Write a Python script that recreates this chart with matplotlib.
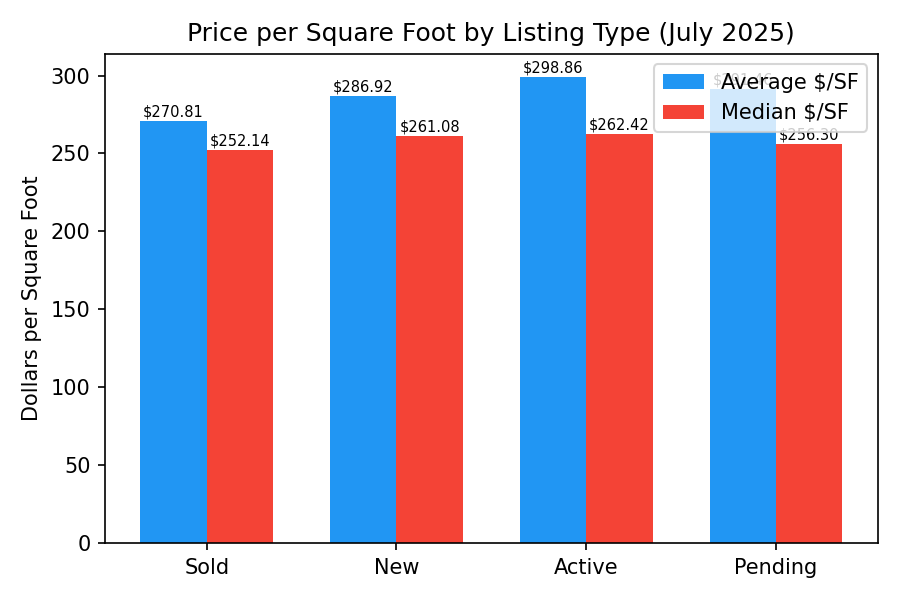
import matplotlib
matplotlib.use("Agg")
import matplotlib.pyplot as plt
import numpy as np

categories = ["Sold", "New", "Active", "Pending"]
avg_psf = [270.81, 286.92, 298.86, 291.46]
median_psf = [252.14, 261.08, 262.42, 256.30]

x = np.arange(len(categories))
w = 0.35
fig, ax = plt.subplots(figsize=(6, 4), dpi=150)
b1 = ax.bar(x - w/2, avg_psf, w, color="#2196F3", label="Average $/SF")
b2 = ax.bar(x + w/2, median_psf, w, color="#F44336", label="Median $/SF")
for bars in (b1, b2):
    for b in bars:
        ax.text(b.get_x() + b.get_width()/2, b.get_height() + 1,
                f"${b.get_height():.2f}", ha="center", va="bottom", fontsize=7)
ax.set_xticks(x)
ax.set_xticklabels(categories)
ax.set_ylabel("Dollars per Square Foot")
ax.set_title("Price per Square Foot by Listing Type (July 2025)")
ax.legend(loc="upper right")
plt.tight_layout()
plt.savefig("out.png")
